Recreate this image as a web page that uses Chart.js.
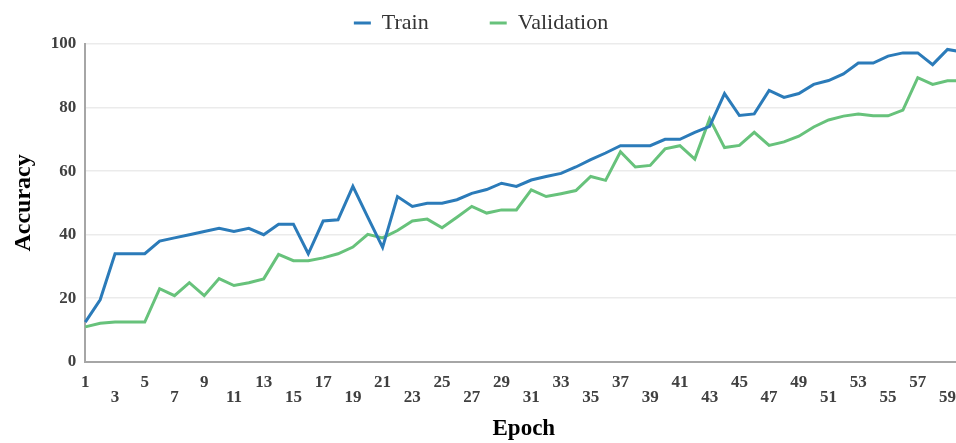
<!DOCTYPE html>
<html>
<head>
<meta charset="utf-8">
<script src="https://cdn.jsdelivr.net/npm/chart.js@4.4.1/dist/chart.umd.min.js"></script>
<style>
  html, body { margin: 0; padding: 0; background: #fff; overflow: hidden; }
  #wrap { position: absolute; left: 0; top: 0; width: 969px; height: 443px; }
</style>
</head>
<body>
<div id="wrap"><canvas id="accChart"></canvas></div>
<script>
// epoker 1..60 (sista punkten klipps av i kanten)
var epochs = [];
for (var e = 1; e <= 60; e++) epochs.push(String(e));

var trainAcc = [12.5, 19.5, 34, 34, 34, 38, 39, 40, 41, 42,
                41, 42, 40, 43.3, 43.3, 34, 44.3, 44.7, 55.2, 45.5,
                36, 52, 48.9, 49.9, 49.9, 51, 53, 54.2, 56.2, 55.2,
                57.2, 58.3, 59.3, 61.3, 63.6, 65.7, 68, 68, 68, 70,
                70, 72.2, 74.1, 84.4, 77.5, 78, 85.4, 83.2, 84.4, 87.3,
                88.5, 90.6, 94, 94, 96.2, 97.2, 97.2, 93.5, 98.3, 97.5];

var valAcc = [11, 12.1, 12.5, 12.5, 12.5, 23, 20.8, 24.9, 20.8, 26.2,
              24, 24.9, 26.1, 33.8, 31.8, 31.8, 32.7, 34, 36.1, 40.1,
              39, 41.3, 44.3, 44.9, 42.2, 45.5, 48.9, 46.8, 47.8, 47.8,
              54.1, 52, 52.9, 53.9, 58.3, 57.1, 66.1, 61.3, 61.8, 67,
              68, 63.8, 76.5, 67.4, 68.1, 72.2, 68.1, 69.2, 71, 73.9,
              76.1, 77.3, 78, 77.4, 77.4, 79.2, 89.4, 87.3, 88.4, 88.4];

var yTicks = [0, 20, 40, 60, 80, 100];

var serif = '"Liberation Serif", "Times New Roman", serif';

// flytta legenden lite åt vänster
var legendShift = {
  id: 'legendShift',
  afterLayout: function(chart) {
    if (chart.legend) chart.legend.left -= 12;
  }
};

var ctx = document.getElementById('accChart').getContext('2d');
new Chart(ctx, {
  type: 'line',
  data: {
    labels: epochs,
    datasets: [{
      label: 'Train',
      data: trainAcc,
      borderColor: '#2b7bb9',
      backgroundColor: '#2b7bb9',
      borderWidth: 3,
      pointRadius: 0,
      tension: 0
    }, {
      label: 'Validation',
      data: valAcc,
      borderColor: '#67c27b',
      backgroundColor: '#67c27b',
      borderWidth: 3,
      pointRadius: 0,
      tension: 0
    }]
  },
  plugins: [legendShift],
  options: {
    responsive: true,
    maintainAspectRatio: false,
    animation: false,
    layout: { padding: { left: 5, right: 0, top: -58, bottom: 0 } },
    plugins: {
      tooltip: { enabled: false },
      legend: {
        position: 'top',
        labels: {
          usePointStyle: true,
          pointStyle: 'line',
          pointStyleWidth: 17,
          padding: 61,
          color: '#333',
          font: { family: serif, size: 22 }
        }
      }
    },
    scales: {
      x: {
        offset: false,
        grid: { display: false, drawTicks: false },
        border: { color: '#a6a6a6', width: 2 },
        ticks: {
          autoSkip: false,
          maxRotation: 0,
          minRotation: 0,
          padding: 13,
          color: '#404040',
          font: { family: serif, size: 17, weight: 'bold', lineHeight: 0.9 },
          callback: function(val, i) {
            var lab = epochs[i];
            if (i % 4 === 0) return lab;
            if (i % 4 === 2) return ['', lab];
            return null;
          }
        },
        title: {
          display: true,
          text: 'Epoch',
          color: '#000',
          font: { family: serif, size: 23, weight: 'bold' },
          padding: { top: -3, bottom: 0 }
        }
      },
      y: {
        min: 0,
        max: 100,
        afterBuildTicks: function(axis) {
          axis.ticks = yTicks.map(function(v) { return { value: v }; });
        },
        afterFit: function(axis) {
          // plotytans överkant vid y=44
          axis.paddingTop = 44;
        },
        grid: { color: '#ebebeb', lineWidth: 1.5, drawTicks: false },
        border: { color: '#a6a6a6', width: 2 },
        ticks: {
          padding: 9,
          color: '#404040',
          font: { family: serif, size: 17, weight: 'bold' }
        },
        title: {
          display: true,
          text: 'Accuracy',
          color: '#000',
          font: { family: serif, size: 24, weight: 'bold' },
          padding: { top: 4, bottom: 4 }
        }
      }
    }
  }
});
</script>
</body>
</html>
